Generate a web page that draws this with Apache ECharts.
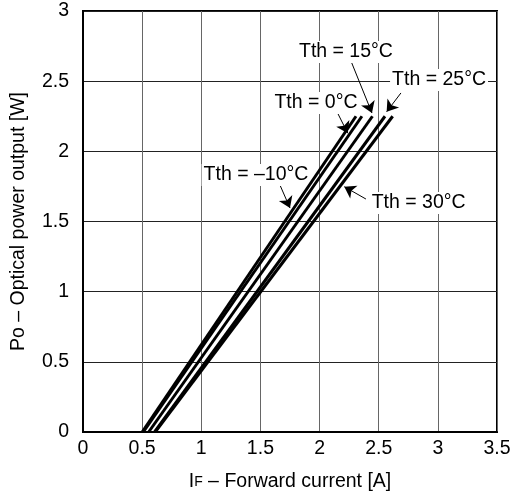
<!DOCTYPE html>
<html>
<head>
<meta charset="utf-8">
<script src="https://cdn.jsdelivr.net/npm/echarts@6/dist/echarts.min.js"></script>
<style>html,body{margin:0;padding:0;background:#fff}#c{width:512px;height:494px}</style>
</head>
<body>
<div id="c"></div>
<script>
// Curves: forward current [A] at Po = 0 W and at Po = 2.25 W
var temps = ['Tth = –10°C', 'Tth = 0°C', 'Tth = 15°C', 'Tth = 25°C', 'Tth = 30°C'];
var powerLevels = [0, 2.25];
var curM10 = [0.50, 2.308];
var cur0 = [0.51, 2.358];
var cur15 = [0.555, 2.447];
var cur25 = [0.605, 2.553];
var cur30 = [0.61, 2.618];
var xTicks = [0, 0.5, 1, 1.5, 2, 2.5, 3, 3.5];
var yTicks = [0, 0.5, 1, 1.5, 2, 2.5, 3];

// Annotations (label centre and arrow, in data units)
var notes = [
  {text: 'Tth = 15°C', at: [2.223, 2.708], from: [2.272, 2.630], to: [2.443, 2.273]},
  {text: 'Tth = 25°C', at: [3.010, 2.508], from: [2.688, 2.416], to: [2.567, 2.282]},
  {text: 'Tth = 0°C', at: [1.970, 2.344], from: [2.147, 2.282], to: [2.238, 2.129]},
  {text: 'Tth = –10°C', at: [1.4625, 1.831], from: [1.665, 1.760], to: [1.750, 1.596]},
  {text: 'Tth = 30°C', at: [2.838, 1.632], from: [2.392, 1.660], to: [2.209, 1.748]}
];

var curves = [curM10, cur0, cur15, cur25, cur30];
var font = '"Liberation Sans", Arial, sans-serif';
var fs = 19.5;

var series = curves.map(function (c, i) {
  return {
    name: temps[i], type: 'line', symbol: 'none', z: 5,
    lineStyle: {color: '#000', width: 3},
    data: c.map(function (x, k) { return [x, powerLevels[k]]; })
  };
});
series.push({
  type: 'line', data: [], z: 6, silent: true,
  markLine: {
    silent: true, symbol: ['none', 'arrow'], symbolSize: 11,
    lineStyle: {color: '#000', width: 1, type: 'solid'},
    itemStyle: {color: '#000'},
    label: {show: false},
    data: notes.map(function (n) { return [{coord: n.from}, {coord: n.to}]; })
  },
  markPoint: {
    silent: true, symbol: 'rect', symbolSize: 0,
    label: {show: true, position: 'inside', color: '#000', fontSize: fs, fontFamily: font,
      backgroundColor: '#fff', padding: [1, 2]},
    data: notes.map(function (n) { return {coord: n.at, value: n.text, label: {formatter: n.text}}; })
  }
});

var chart = echarts.init(document.getElementById('c'));
chart.setOption({
  animation: false,
  textStyle: {fontFamily: font},
  grid: {left: 83, right: 15, top: 11, bottom: 62, show: true, borderColor: '#000', borderWidth: 2,
    containLabel: false, outerBoundsMode: 'none'},
  xAxis: {
    type: 'value', min: xTicks[0], max: xTicks[xTicks.length - 1], interval: 0.5,
    name: 'I{s|F} – Forward current [A]', nameLocation: 'middle', nameGap: 40,
    nameTextStyle: {color: '#000', fontSize: fs, fontFamily: font, rich: {s: {fontSize: 14, color: '#000', fontFamily: font}}},
    axisLine: {show: true, lineStyle: {color: '#000', width: 2}},
    axisTick: {show: false},
    axisLabel: {color: '#000', fontSize: fs, margin: 7, fontFamily: font},
    splitLine: {show: true, lineStyle: {color: '#666', width: 1}}
  },
  yAxis: {
    type: 'value', min: yTicks[0], max: yTicks[yTicks.length - 1], interval: 0.5,
    name: 'Po – Optical power output [W]', nameLocation: 'middle', nameGap: 54,
    nameTextStyle: {color: '#000', fontSize: fs, fontFamily: font},
    axisLine: {show: true, lineStyle: {color: '#000', width: 2}},
    axisTick: {show: false},
    axisLabel: {color: '#000', fontSize: fs, margin: 14, fontFamily: font},
    splitLine: {show: true, lineStyle: {color: '#222', width: 1}}
  },
  series: series
});
</script>
</body>
</html>
